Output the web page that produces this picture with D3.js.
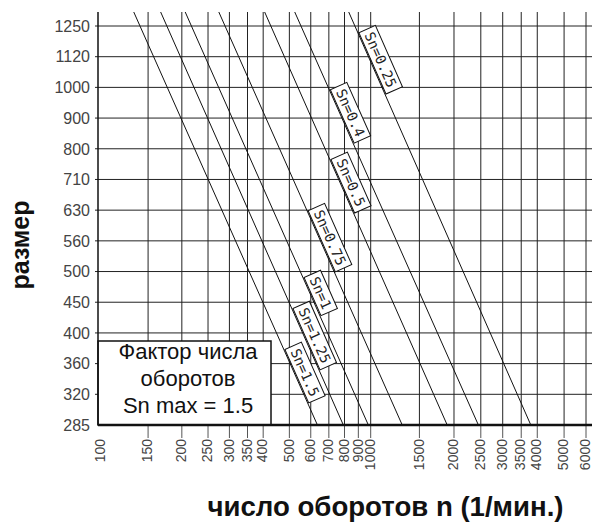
<!DOCTYPE html>
<html>
<head>
<meta charset="utf-8">
<script src="https://cdn.jsdelivr.net/npm/d3@7"></script>
<style>
    body { margin: 0; background: #fff; }
    svg { display: block; }
</style>
</head>
<body>
<div id="chart"></div>
<script>
// sizes (y categories, evenly spaced)
const sizes = [285, 320, 360, 400, 450, 500, 560, 630, 710, 800, 900, 1000, 1120, 1250];
// speed ticks n (1/min), log axis
const speedTicks = [100, 150, 200, 250, 300, 350, 400, 500, 600, 700, 800, 900, 1000,
                    1500, 2000, 2500, 3000, 3500, 4000, 5000, 6000];
// Sn lines: speed read at size 1250 and at size 285
const snLabels = ['Sn=1.5', 'Sn=1.25', 'Sn=1', 'Sn=0.75', 'Sn=0.5', 'Sn=0.4', 'Sn=0.25'];
const nAtSize1250 = [140, 176, 217, 289, 427, 552, 874];
const nAtSize285 = [635, 792, 980, 1300, 1890, 2450, 3790];
const legendLines = ['Фактор числа', 'оборотов', 'Sn max = 1.5'];

const WIDTH = 592;
const HEIGHT = 526;
const LEFT = 98, RIGHT = 592, TOP = 12, BOTTOM = 425;

// where each label box starts along its line (fraction from top)
const LABEL_T = [0.818, 0.719, 0.644, 0.482, 0.358, 0.189, 0.051];

const svg = d3.select('#chart')
    .append('svg')
        .attr('width', WIDTH)
        .attr('height', HEIGHT);

const x = d3.scaleLog()
    .domain([100, 1000, 6000])
    .range([100.5, 370.7, 586]);

const y = d3.scalePoint()
    .domain(sizes)
    .range([BOTTOM, 26]);

const grid = svg.append('g').attr('stroke', '#222').attr('stroke-width', 1);

// horizontal grid
grid.selectAll('line.h')
    .data(sizes.slice(1))
    .enter()
    .append('line')
        .attr('class', 'h')
        .attr('x1', LEFT - 3)
        .attr('x2', RIGHT)
        .attr('y1', d => y(d))
        .attr('y2', d => y(d));

// vertical grid
grid.selectAll('line.v')
    .data(speedTicks.slice(1))
    .enter()
    .append('line')
        .attr('class', 'v')
        .attr('x1', d => x(d))
        .attr('x2', d => x(d))
        .attr('y1', TOP)
        .attr('y2', BOTTOM);

// ticks under the axis
svg.append('g')
    .selectAll('line')
    .data(speedTicks.slice(1))
    .enter()
    .append('line')
        .attr('x1', d => x(d))
        .attr('x2', d => x(d))
        .attr('y1', BOTTOM)
        .attr('y2', BOTTOM + 13)
        .attr('stroke', '#555')
        .attr('stroke-width', 1);

// Sn lines
const snLines = snLabels.map((label, i) => {
    const x1 = x(nAtSize1250[i]), y1 = y(1250);
    const x2 = x(nAtSize285[i]), y2 = y(285);
    const k = (x2 - x1) / (y2 - y1);
    return { label, t: LABEL_T[i], x0: x1 + k * (TOP - y1), y0: TOP, x3: x2, y3: y2 };
});

svg.append('g')
    .selectAll('line')
    .data(snLines)
    .enter()
    .append('line')
        .attr('x1', d => d.x0)
        .attr('y1', d => d.y0)
        .attr('x2', d => d.x3)
        .attr('y2', d => d.y3)
        .attr('stroke', '#111')
        .attr('stroke-width', 1);

// label boxes along the lines
const BOX_H = 18;
const labels = svg.append('g')
    .selectAll('g')
    .data(snLines)
    .enter()
    .append('g')
        .attr('transform', d => {
            const px = d.x0 + (d.x3 - d.x0) * d.t;
            const py = d.y0 + (d.y3 - d.y0) * d.t;
            const ang = Math.atan2(d.y3 - d.y0, d.x3 - d.x0) * 180 / Math.PI;
            return `translate(${px},${py}) rotate(${ang})`;
        });

labels.append('rect')
    .attr('fill', '#fff')
    .attr('stroke', '#111')
    .attr('stroke-width', 1);

labels.append('text')
    .text(d => d.label)
    .attr('font-family', '"DejaVu Sans Mono", "Liberation Mono", monospace')
    .attr('font-size', 14)
    .attr('fill', '#222')
    .attr('text-anchor', 'middle')
    .attr('dominant-baseline', 'central');

labels.each(function () {
    const g = d3.select(this);
    const w = g.select('text').node().getComputedTextLength() + 8;
    g.select('rect')
        .attr('x', 0)
        .attr('y', -BOX_H - 1)
        .attr('width', w)
        .attr('height', BOX_H);
    g.select('text')
        .attr('x', w / 2)
        .attr('y', -BOX_H / 2 - 1);
});

// legend box
svg.append('rect')
    .attr('x', LEFT)
    .attr('y', 341)
    .attr('width', 173)
    .attr('height', BOTTOM - 341)
    .attr('fill', '#fff')
    .attr('stroke', '#111')
    .attr('stroke-width', 1.5);

svg.append('g')
    .selectAll('text')
    .data(legendLines)
    .enter()
    .append('text')
        .text(d => d)
        .attr('x', 188)
        .attr('y', (d, i) => 359 + i * 27)
        .attr('text-anchor', 'middle')
        .attr('font-family', '"Liberation Sans", Arial, sans-serif')
        .attr('font-size', 22)
        .attr('fill', '#111');

// axis lines
svg.append('line')
    .attr('x1', LEFT).attr('x2', LEFT)
    .attr('y1', TOP).attr('y2', BOTTOM)
    .attr('stroke', '#111').attr('stroke-width', 1.5);

svg.append('line')
    .attr('x1', LEFT).attr('x2', RIGHT)
    .attr('y1', BOTTOM).attr('y2', BOTTOM)
    .attr('stroke', '#111').attr('stroke-width', 2.5);

// y tick labels
svg.append('g')
    .selectAll('text')
    .data(sizes)
    .enter()
    .append('text')
        .text(d => d)
        .attr('x', 90)
        .attr('y', d => y(d))
        .attr('dy', '0.36em')
        .attr('text-anchor', 'end')
        .attr('font-family', '"Liberation Sans Narrow", "Arial Narrow", sans-serif')
        .attr('font-size', 16)
        .attr('fill', '#444');

// x tick labels
svg.append('g')
    .selectAll('text')
    .data(speedTicks)
    .enter()
    .append('text')
        .text(d => d)
        .attr('transform', d => `translate(${x(d)},${BOTTOM + 14}) rotate(-90)`)
        .attr('dy', '0.3em')
        .attr('text-anchor', 'end')
        .attr('font-family', '"Liberation Sans Narrow", "Arial Narrow", sans-serif')
        .attr('font-size', 14)
        .attr('fill', '#444');

// axis titles
svg.append('text')
    .text('размер')
    .attr('transform', 'translate(29,245) rotate(-90)')
    .attr('text-anchor', 'middle')
    .attr('font-family', '"Liberation Sans", Arial, sans-serif')
    .attr('font-weight', 'bold')
    .attr('font-size', 25)
    .attr('fill', '#111');

svg.append('text')
    .text('число оборотов n (1/мин.)')
    .attr('x', 385.5)
    .attr('y', 516)
    .attr('text-anchor', 'middle')
    .attr('font-family', '"Liberation Sans", Arial, sans-serif')
    .attr('font-weight', 'bold')
    .attr('font-size', 27.6)
    .attr('fill', '#111');
</script>
</body>
</html>
